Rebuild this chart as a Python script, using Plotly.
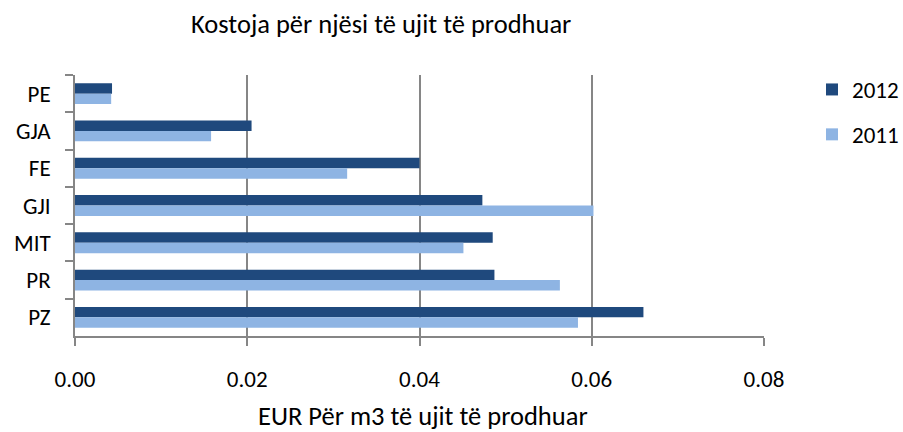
import plotly.graph_objects as go

categories = ["PE", "GJA", "FE", "GJI", "MIT", "PR", "PZ"]
values_2012 = [0.0043, 0.0205, 0.0400, 0.0473, 0.0485, 0.0487, 0.0660]
values_2011 = [0.0042, 0.0158, 0.0316, 0.0602, 0.0451, 0.0563, 0.0584]
x_ticks = [0.00, 0.02, 0.04, 0.06, 0.08]

FONT = "Carlito, Calibri, Lato, sans-serif"
GRID = "#868686"

W, H = 903, 432
L, R, T, B = 75, 139, 75, 96
PW = W - L - R
PH = H - T - B


def px_x(px):
    return (px - L) / PW


def px_y(py):
    return (H - B - py) / PH


fig = go.Figure()
fig.add_trace(go.Bar(y=categories, x=values_2012, orientation="h", name="2012",
                     marker=dict(color="#1F497D", line=dict(width=0)), legendgroup="a"))
fig.add_trace(go.Bar(y=categories, x=values_2011, orientation="h", name="2011",
                     marker=dict(color="#8EB4E3", line=dict(width=0)), legendgroup="b"))

fig.update_layout(
    width=W, height=H,
    margin=dict(l=L, r=R, t=T, b=B),
    paper_bgcolor="white", plot_bgcolor="white",
    barmode="group", bargap=0.44, bargroupgap=0,
    font=dict(family=FONT, size=23, color="black"),
    legend=dict(xref="container", yref="container", x=812 / W, xanchor="left",
                y=1 - 68 / H, yanchor="top", traceorder="grouped",
                tracegroupgap=12, font=dict(family=FONT, size=23), itemwidth=30,
                bgcolor="rgba(0,0,0,0)"),
    showlegend=True,
    annotations=[
        dict(text="Kostoja për njësi të ujit të prodhuar", xref="paper", yref="paper",
             x=px_x(381), y=px_y(24), xanchor="center", yanchor="middle",
             showarrow=False, font=dict(family=FONT, size=26.5, color="black")),
        dict(text="EUR Për m3 të ujit të prodhuar", xref="paper", yref="paper",
             x=px_x(423), y=px_y(416), xanchor="center", yanchor="middle",
             showarrow=False, font=dict(family=FONT, size=26.5, color="black")),
    ],
)
fig.update_xaxes(range=[0, 0.08], tickvals=x_ticks, tickformat=".2f",
                 showgrid=True, gridcolor=GRID, gridwidth=1.5,
                 showline=True, linecolor=GRID, linewidth=1.5,
                 ticks="outside", ticklen=8, tickcolor=GRID, tickwidth=1.5,
                 zeroline=False, automargin=False, ticklabelstandoff=14)
fig.update_yaxes(categoryorder="array", categoryarray=categories, autorange="reversed",
                 showgrid=False, showline=True, linecolor=GRID, linewidth=1.5,
                 ticks="outside", tickson="boundaries", ticklen=8, tickcolor=GRID, tickwidth=1.5,
                 ticklabelstandoff=18, automargin=False)

fig.write_html("out.html", config={"displayModeBar": False},
               post_script="document.body.style.margin='0';document.body.style.padding='0';"
                           "document.body.style.overflow='hidden';")
